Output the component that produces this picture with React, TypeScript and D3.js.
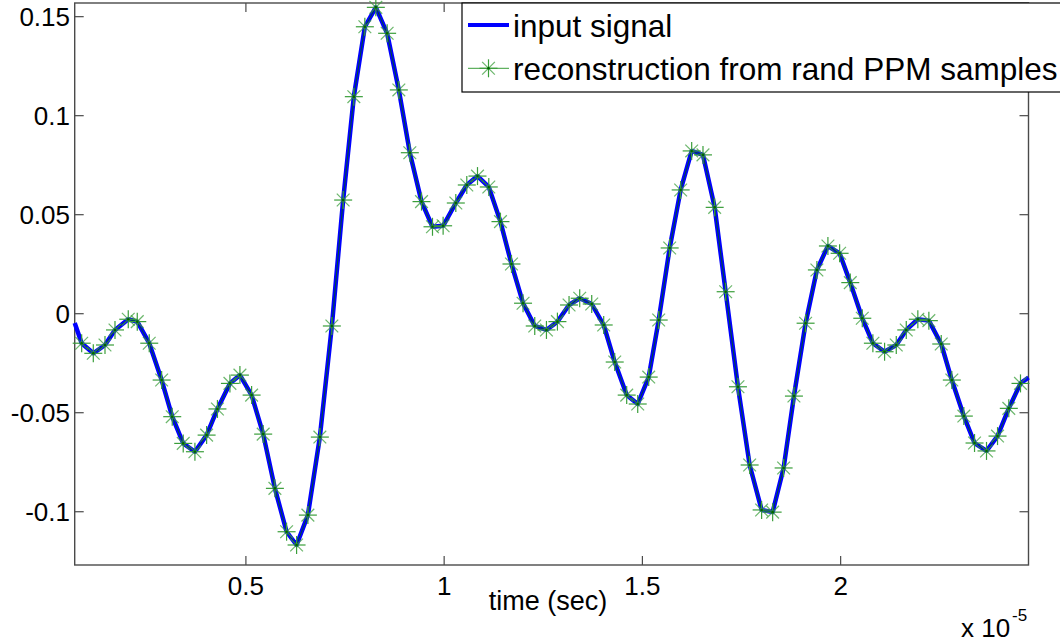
import React from "react";
import * as d3 from "d3";

// time in units of 1e-5 s
const sampleTimes = [
  0.0858, 0.1151, 0.1446, 0.1698, 0.2033, 0.226, 0.2562, 0.2875, 0.3142, 0.3419,
  0.3714, 0.4009, 0.4282, 0.4597, 0.4849, 0.5144, 0.5436, 0.5731, 0.6026, 0.6278,
  0.6563, 0.6865, 0.7168, 0.7453, 0.7722, 0.8, 0.8277, 0.8562, 0.8857, 0.9134,
  0.9429, 0.9706, 0.9974, 1.0294, 1.0571, 1.0841, 1.1126, 1.142, 1.1698, 1.199,
  1.2285, 1.258, 1.2857, 1.315, 1.3419, 1.3722, 1.4024, 1.4302, 1.4604, 1.4882,
  1.5159, 1.5411, 1.5688, 1.5965, 1.6243, 1.6528, 1.6823, 1.71, 1.741, 1.7705,
  1.8007, 1.8285, 1.8562, 1.8822, 1.9116, 1.9401, 1.9679, 1.9974, 2.0243, 2.0546,
  2.0813, 2.1108, 2.1403, 2.1655, 2.1947, 2.2225, 2.2537, 2.2804, 2.3107, 2.3377,
  2.3679, 2.3957, 2.4241, 2.4536,
];

const reconstruction = [
  -0.0149, -0.02, -0.0158, -0.0082, -0.0028, -0.004, -0.0149, -0.0335, -0.052, -0.0655,
  -0.0697, -0.0613, -0.0481, -0.0352, -0.031, -0.0411, -0.0608, -0.0882, -0.1101, -0.1168,
  -0.1017, -0.0623, -0.0062, 0.0574, 0.1096, 0.1449, 0.1547, 0.1416, 0.113, 0.0813,
  0.0566, 0.0439, 0.0444, 0.0559, 0.065, 0.0695, 0.064, 0.0465, 0.0251, 0.0053,
  -0.0062, -0.0082, -0.004, 0.0044, 0.0078, 0.0049, -0.0057, -0.0244, -0.0411, -0.0456,
  -0.032, -0.0032, 0.0332, 0.0625, 0.0822, 0.0802, 0.0537, 0.0111, -0.0369, -0.0764,
  -0.0991, -0.1002, -0.0779, -0.0416, -0.0048, 0.0221, 0.0342, 0.0305, 0.0157, -0.0023,
  -0.0149, -0.0192, -0.0158, -0.0082, -0.0028, -0.0035, -0.0153, -0.0335, -0.0517, -0.0653,
  -0.0693, -0.0618, -0.0478, -0.0352,
];

const inputTimes = [0.0682, ...sampleTimes, 2.4738];
const inputSignal = [-0.0047, ...reconstruction, -0.0322];

const xDomain = [0.0682, 2.4738];
const yDomain = [-0.1269, 0.1569];
const xTicks = [0.5, 1, 1.5, 2];
const xTickLabels = ["0.5", "1", "1.5", "2"];
const yTicks = [-0.1, -0.05, 0, 0.05, 0.1, 0.15];
const yTickLabels = ["-0.1", "-0.05", "0", "0.05", "0.1", "0.15"];
const legendLabels = ["input signal", "reconstruction from rand PPM samples"];
const xLabel = "time (sec)";

const W = 1060;
const H = 644;
const L = 74.7, R = 1028.5, T = 3, B = 565;
const FONT = "'Liberation Sans', Arial, Helvetica, sans-serif";

function Asterisk({ cx, cy, r, color, width }: { cx: number; cy: number; r: number; color: string; width: number }) {
  const d = r * 0.7071;
  return (
    <g stroke={color} strokeWidth={width}>
      <line x1={cx - r} y1={cy} x2={cx + r} y2={cy} />
      <line x1={cx} y1={cy - r} x2={cx} y2={cy + r} />
      <line x1={cx - d} y1={cy - d} x2={cx + d} y2={cy + d} strokeOpacity={0.75} />
      <line x1={cx - d} y1={cy + d} x2={cx + d} y2={cy - d} strokeOpacity={0.75} />
      <circle cx={cx} cy={cy} r={1.3} fill="#006400" stroke="none" />
    </g>
  );
}

export default function App() {
  const x = d3.scaleLinear().domain(xDomain).range([L, R]);
  const y = d3.scaleLinear().domain(yDomain).range([B, T]);

  const inputPts: [number, number][] = inputTimes.map((t, i) => [t, inputSignal[i]]);
  const recPts: [number, number][] = sampleTimes.map((t, i) => [t, reconstruction[i]]);
  const line = d3.line<[number, number]>().x((d) => x(d[0])).y((d) => y(d[1]));

  const tickLen = 9;
  const axisColor = "#4a4a4a";
  const green = "#3a9e3a";

  const legX = 462, legY = 3, legW = 620, legH = 89;

  return (
    <svg
      width={W}
      height={H}
      style={{ position: "absolute", left: 0, top: 0, display: "block", background: "#fff" }}
      fontFamily={FONT}
    >
      <rect x={0} y={0} width={W} height={H} fill="#fff" />
      {/* axes box */}
      <rect x={L} y={T} width={R - L} height={B - T} fill="#fff" stroke={axisColor} strokeWidth={1.4} />
      {/* ticks */}
      {xTicks.map((t) => (
        <g key={"xt" + t} stroke={axisColor} strokeWidth={1.2}>
          <line x1={x(t)} y1={B} x2={x(t)} y2={B - tickLen} />
          <line x1={x(t)} y1={T} x2={x(t)} y2={T + tickLen} />
        </g>
      ))}
      {yTicks.map((t) => (
        <g key={"yt" + t} stroke={axisColor} strokeWidth={1.2}>
          <line x1={L} y1={y(t)} x2={L + tickLen} y2={y(t)} />
          <line x1={R} y1={y(t)} x2={R - tickLen} y2={y(t)} />
        </g>
      ))}
      {/* tick labels */}
      {xTicks.map((t, i) => (
        <text key={"xl" + t} x={x(t)} y={595} textAnchor="middle" fontSize={26} fill="#000">
          {xTickLabels[i]}
        </text>
      ))}
      {yTicks.map((t, i) => (
        <text key={"yl" + t} x={70} y={y(t) + 9.3} textAnchor="end" fontSize={26} fill="#000">
          {yTickLabels[i]}
        </text>
      ))}
      {/* x label */}
      <text x={548} y={610} textAnchor="middle" fontSize={27} fill="#000">
        {xLabel}
      </text>
      {/* exponent */}
      <text x={961} y={637} fontSize={26} fill="#000">
        x 10
      </text>
      <text x={1012} y={621} fontSize={17} fill="#000">
        -5
      </text>

      {/* data */}
      <path d={line(inputPts) || ""} fill="none" stroke="#0000ff" strokeWidth={4.5} strokeLinejoin="round" />
      <path d={line(recPts) || ""} fill="none" stroke="#006400" strokeWidth={1} strokeOpacity={0.8} />
      {recPts.map((p, i) => (
        <Asterisk key={"m" + i} cx={x(p[0])} cy={y(p[1])} r={9} color={green} width={1.2} />
      ))}

      {/* legend */}
      <rect x={legX} y={legY} width={legW} height={legH} fill="#fff" stroke="#000" strokeWidth={1.2} />
      <line x1={468} y1={25} x2={509} y2={25} stroke="#0000ff" strokeWidth={4} />
      <text x={513} y={36.7} fontSize={31.5} fill="#000">
        {legendLabels[0]}
      </text>
      <line x1={468} y1={68.3} x2={509} y2={68.3} stroke={green} strokeWidth={1} />
      <Asterisk cx={488.5} cy={68.3} r={9} color={green} width={1.2} />
      <text x={513} y={80} fontSize={31.5} fill="#000">
        {legendLabels[1]}
      </text>
    </svg>
  );
}
